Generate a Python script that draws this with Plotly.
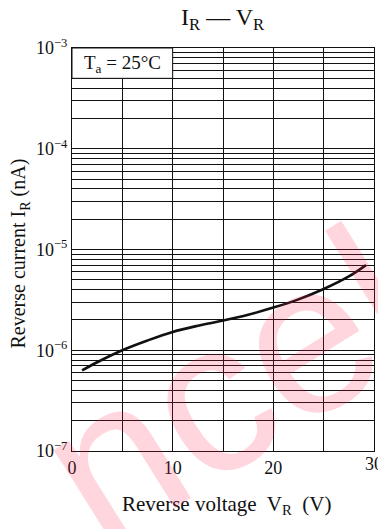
import math
import plotly.graph_objects as go

# Reverse current vs reverse voltage, Ta = 25 °C
voltage_v = [1.0, 2.5, 5.0, 7.5, 10.0, 12.5, 15.0, 17.5, 20.0, 22.5, 25.0, 27.5, 29.2]
current_na = [6.3e-7, 7.6e-7, 1.0e-6, 1.25e-6, 1.52e-6, 1.75e-6, 1.97e-6, 2.25e-6,
              2.65e-6, 3.2e-6, 4.05e-6, 5.4e-6, 7.0e-6]

x_ticks = [0, 5, 10, 15, 20, 25, 30]
x_tick_text = ["0", "", "10", "", "20", "", ""]
x_edge_label = "30"

decade_exponents = [-7, -6, -5, -4]
y_ticks = []
y_tick_text = []
for e in decade_exponents:
    for k in range(1, 10):
        y_ticks.append(k * 10.0 ** e)
        y_tick_text.append(f"10<sup>\u2212{-e}</sup>" if k == 1 else "")
y_ticks.append(1e-3)
y_tick_text.append("10<sup>\u22123</sup>")

SERIF = "Liberation Serif"
INK = "#111111"

fig = go.Figure()
fig.add_trace(go.Scatter(
    x=voltage_v, y=current_na, mode="lines",
    line=dict(color=INK, width=2.6, shape="spline", smoothing=1.0),
    hoverinfo="skip", showlegend=False,
))

L, R, T, B = 72, 4, 48, 78

fig.update_layout(
    width=378, height=529,
    margin=dict(l=L, r=R, t=T, b=B),
    paper_bgcolor="white", plot_bgcolor="white",
    font=dict(family=SERIF, color=INK, size=18),
    xaxis=dict(
        range=[0, 30], tickmode="array", tickvals=x_ticks, ticktext=x_tick_text,
        showgrid=True, gridcolor=INK, gridwidth=1,
        showline=True, linecolor=INK, linewidth=1.2, mirror=True,
        ticks="", zeroline=False, tickfont=dict(size=18, family=SERIF),
        ticklabelstandoff=0,
    ),
    yaxis=dict(
        type="log", range=[-7, -3], tickmode="array", tickvals=y_ticks, ticktext=y_tick_text,
        showgrid=True, gridcolor=INK, gridwidth=1,
        showline=True, linecolor=INK, linewidth=1.2, mirror=True,
        ticks="", zeroline=False, tickfont=dict(size=18, family=SERIF),
    ),
)

# Last x tick label sits on the right border and runs off the page
fig.add_annotation(x=30, y=0, xref="x", yref="paper", yanchor="top", yshift=-1,
                   xanchor="center", text=x_edge_label, showarrow=False,
                   font=dict(family=SERIF, size=18, color=INK))

# Temperature label panel in the upper-left cell
fig.add_shape(type="rect", xref="x", yref="y", x0=0, x1=10, y0=5e-4, y1=1e-3,
              fillcolor="white", line=dict(color=INK, width=1), layer="above")
fig.add_annotation(x=1.0, y=math.log10(7.0e-4), xref="x", yref="y",
                   xanchor="left", yanchor="middle",
                   text="T<sub>a</sub> = 25°C", showarrow=False,
                   font=dict(family=SERIF, size=19, color=INK))

# Titles
fig.add_annotation(x=0.5, y=1.0, xref="paper", yref="paper", yshift=29,
                   xanchor="center", yanchor="middle",
                   text="I<sub>R</sub> \u2014 V<sub>R</sub>", showarrow=False,
                   font=dict(family=SERIF, size=24, color=INK))
fig.add_annotation(x=0.51, y=0.0, xref="paper", yref="paper", yshift=-54,
                   xanchor="center", yanchor="middle",
                   text="Reverse voltage  V<sub>R</sub>  (V)", showarrow=False,
                   font=dict(family=SERIF, size=21, color=INK))
fig.add_annotation(x=0.0, y=0.49, xref="paper", yref="paper", xshift=-52,
                   xanchor="center", yanchor="middle", textangle=-90,
                   text="Reverse current I<sub>R</sub> (nA)", showarrow=False,
                   font=dict(family=SERIF, size=20, color=INK))

# Faint diagonal mark lettering
fig.add_annotation(x=0.52, y=0.16, xref="paper", yref="paper",
                   xanchor="center", yanchor="middle", textangle=-32,
                   text="ncel", showarrow=False,
                   font=dict(family="Liberation Sans", size=215, color="rgba(255,30,70,0.18)"))

fig.write_html("out.html")
